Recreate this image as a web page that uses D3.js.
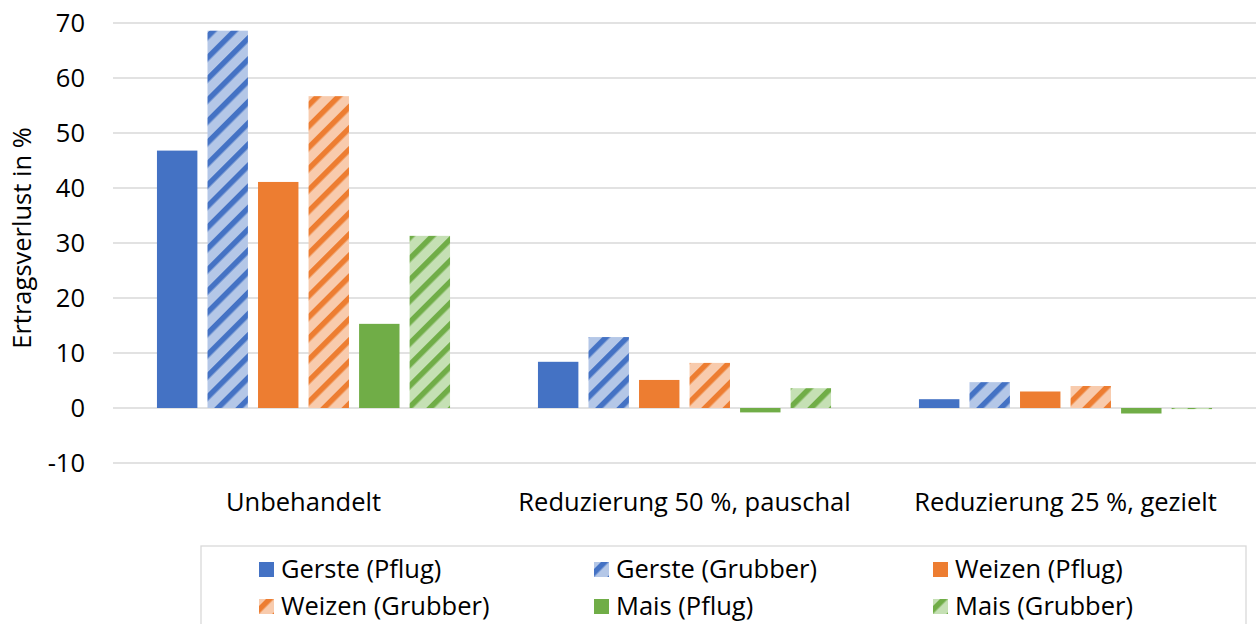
<!DOCTYPE html>
<html>
<head>
<meta charset="utf-8">
<script src="https://cdn.jsdelivr.net/npm/d3@7"></script>
<style>
  body { margin: 0; background: #fff; }
  text { font-family: "Open Sans", Lato, sans-serif; fill: #000; }
</style>
</head>
<body>
<svg id="chart" width="1256" height="624"></svg>
<script>
"use strict";

// categories and series
const categories = ["Unbehandelt", "Reduzierung 50 %, pauschal", "Reduzierung 25 %, gezielt"];
const seriesNames = ["Gerste (Pflug)", "Gerste (Grubber)", "Weizen (Pflug)", "Weizen (Grubber)", "Mais (Pflug)", "Mais (Grubber)"];
const gerstePflug = [46.8, 8.4, 1.6];
const gersteGrubber = [68.6, 12.9, 4.7];
const weizenPflug = [41.1, 5.1, 3.0];
const weizenGrubber = [56.7, 8.2, 4.0];
const maisPflug = [15.3, -0.8, -1.0];
const maisGrubber = [31.3, 3.6, -0.2];
const yTicks = [-10, 0, 10, 20, 30, 40, 50, 60, 70];

const seriesValues = [gerstePflug, gersteGrubber, weizenPflug, weizenGrubber, maisPflug, maisGrubber];
const baseColors = ["#4472C4", "#4472C4", "#ED7D31", "#ED7D31", "#70AD47", "#70AD47"];
const lightColors = ["#B4C7E7", "#B4C7E7", "#F8CBAD", "#F8CBAD", "#C5E0B4", "#C5E0B4"];
const hatched = [false, true, false, true, false, true];

const svg = d3.select("#chart");

const plotLeft = 113, plotRight = 1256;
const fontSize = 25.5;

const x0 = d3.scaleBand()
    .domain(categories)
    .range([plotLeft, plotRight]);

const x1 = d3.scaleBand()
    .domain(d3.range(seriesNames.length))
    .range([0, x0.bandwidth()])
    .paddingInner(0.2)
    .paddingOuter(0.87);

const y = d3.scaleLinear()
    .domain([-10, 70])
    .range([463, 23]);

// hatch patterns for the "Grubber" series
const hatchSize = 15;
const defs = svg.append("defs");
seriesNames.forEach(function(name, i) {
    if (!hatched[i]) return;
    const p = defs.append("pattern")
        .attr("id", "hatch" + i)
        .attr("patternUnits", "userSpaceOnUse")
        .attr("width", hatchSize)
        .attr("height", hatchSize)
        .attr("patternTransform", "rotate(45)");
    p.append("rect")
        .attr("width", hatchSize).attr("height", hatchSize)
        .attr("fill", lightColors[i]);
    p.append("rect")
        .attr("x", 0).attr("width", 5.5).attr("height", hatchSize)
        .attr("fill", baseColors[i]);
});

function fillFor(i) {
    return hatched[i] ? "url(#hatch" + i + ")" : baseColors[i];
}

// gridlines
svg.append("g")
    .selectAll("line")
    .data(yTicks)
    .enter()
    .append("line")
    .attr("x1", plotLeft)
    .attr("x2", plotRight)
    .attr("y1", d => y(d))
    .attr("y2", d => y(d))
    .attr("stroke", "#d9d9d9")
    .attr("stroke-width", 1.3);

// y tick labels
svg.append("g")
    .selectAll("text")
    .data(yTicks)
    .enter()
    .append("text")
    .attr("x", 85)
    .attr("y", d => y(d))
    .attr("dy", "0.35em")
    .attr("text-anchor", "end")
    .attr("font-size", fontSize)
    .text(d => d);

// y axis title
svg.append("text")
    .attr("transform", "translate(22,238) rotate(-90)")
    .attr("dy", "0.35em")
    .attr("text-anchor", "middle")
    .attr("font-size", fontSize)
    .text("Ertragsverlust in %");

// bars
const groups = svg.append("g")
    .selectAll("g")
    .data(categories)
    .enter()
    .append("g")
    .attr("transform", d => "translate(" + x0(d) + ",0)");

groups.selectAll("rect")
    .data(function(cat, ci) {
        return seriesValues.map((vals, si) => ({si: si, v: vals[ci]}));
    })
    .enter()
    .append("rect")
    .attr("x", d => x1(d.si))
    .attr("width", x1.bandwidth())
    .attr("y", d => y(Math.max(0, d.v)))
    .attr("height", d => Math.abs(y(d.v) - y(0)))
    .attr("fill", d => fillFor(d.si));

// category labels
svg.append("g")
    .selectAll("text")
    .data(categories)
    .enter()
    .append("text")
    .attr("x", d => x0(d) + x0.bandwidth() / 2)
    .attr("y", 502)
    .attr("dy", "0.35em")
    .attr("text-anchor", "middle")
    .attr("font-size", fontSize)
    .text(d => d);

// legend
svg.append("rect")
    .attr("x", 201)
    .attr("y", 546)
    .attr("width", 1045)
    .attr("height", 90)
    .attr("fill", "none")
    .attr("stroke", "#d9d9d9")
    .attr("stroke-width", 1.3);

const legendCols = [259, 594, 933];
const legendRows = [569, 606];

const legend = svg.append("g")
    .selectAll("g")
    .data(seriesNames)
    .enter()
    .append("g")
    .attr("transform", (d, i) => "translate(" + legendCols[i % 3] + "," + legendRows[Math.floor(i / 3)] + ")");

legend.append("rect")
    .attr("x", 0)
    .attr("y", -7)
    .attr("width", 15)
    .attr("height", 15)
    .attr("fill", (d, i) => fillFor(i));

legend.append("text")
    .attr("x", 22)
    .attr("y", 0)
    .attr("dy", "0.35em")
    .attr("font-size", fontSize)
    .text(d => d);
</script>
</body>
</html>
